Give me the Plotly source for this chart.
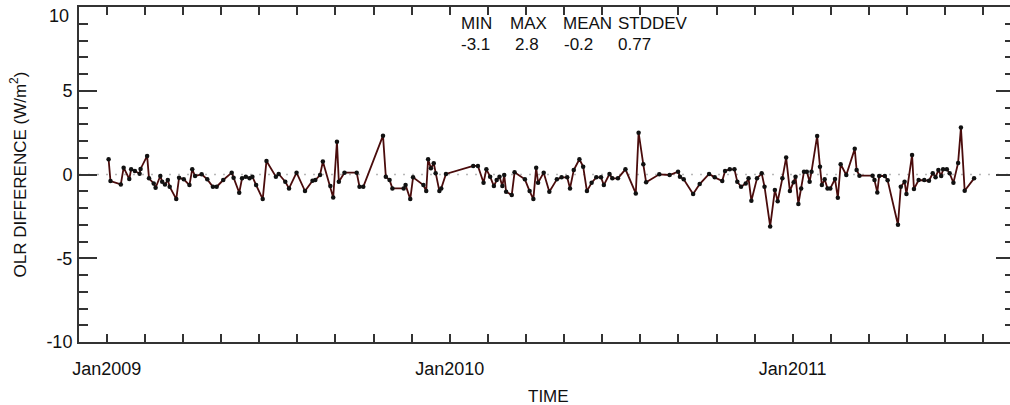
import pandas as pd
import plotly.graph_objects as go

# Day offsets from 1 Jan 2009 and OLR differences (W/m^2)
day_offsets = [
    2, 4, 15, 18, 24, 26, 30, 35, 36, 43,
    45, 50, 52, 57, 59, 62, 65, 67, 74, 77,
    82, 88, 91, 94, 101, 107, 113, 117, 124, 133,
    135, 141, 144, 148, 152, 155, 159, 166, 170, 180,
    183, 190, 194, 202, 211, 219, 222, 227, 230, 238,
    241, 245, 247, 253, 266, 269, 273, 294, 297, 301,
    304, 316, 318, 323, 326, 337, 340, 342, 345, 348,
    350, 354, 356, 361, 390, 395, 401, 404, 408, 412,
    415, 418, 421, 423, 425, 431, 434, 445, 450, 454,
    457, 459, 465, 471, 479, 484, 490, 493, 497, 503,
    507, 511, 516, 521, 526, 529, 535, 538, 544, 552,
    563, 566, 571, 574, 588, 599, 608, 610, 614, 624,
    631, 641, 647, 655, 658, 663, 668, 671, 675, 680,
    683, 686, 692, 697, 700, 706, 711, 714, 719, 723,
    727, 731, 733, 736, 739, 742, 745, 748, 750, 756,
    759, 761, 764, 767, 770, 775, 778, 781, 787, 796,
    798, 801, 815, 817, 820, 822, 828, 831, 842, 845,
    849, 851, 857, 859, 864, 870, 875, 879, 882, 885,
    888, 890, 894, 897, 901, 906, 909, 913, 923,
]
olr_diff = [
    0.91, -0.39, -0.59, 0.41, -0.27, 0.31, 0.21, 0.05, 0.33, 1.11,
    -0.23, -0.53, -0.79, -0.09, -0.43, -0.59, -0.33, -0.73, -1.47, -0.19,
    -0.29, -0.63, 0.31, -0.09, 0.01, -0.29, -0.73, -0.73, -0.33, 0.11,
    -0.19, -1.09, -0.23, -0.13, -0.23, -0.13, -0.63, -1.47, 0.81, -0.13,
    0.03, -0.43, -0.83, 0.11, -0.99, -0.37, -0.33, -0.03, 0.77, -0.69,
    -1.37, 1.96, -0.43, 0.11, 0.11, -0.73, -0.73, 2.32, -0.13, -0.33,
    -0.83, -0.83, -0.63, -1.47, -0.17, -0.63, -0.99, 0.91, 0.37, 0.67,
    0.07, -0.99, -0.83, 0.03, 0.51, 0.51, -0.49, 0.31, -0.13, -0.69,
    -0.33, -0.13, -0.69, -0.03, -1.03, -1.23, 0.13, -0.29, -0.99, -1.47,
    0.41, -0.49, 0.11, -1.03, -0.29, -0.17, -0.17, -0.83, 0.27, 0.91,
    0.47, -0.99, -0.49, -0.17, -0.17, -0.63, 0.03, -0.23, -0.23, 0.31,
    -1.13, 2.5, 0.61, -0.47, 0.01, -0.03, 0.17, -0.13, -0.29, -1.17,
    -0.57, 0.03, -0.17, -0.39, 0.21, 0.31, 0.31, -0.43, -0.73, -0.53,
    -0.23, -1.57, -0.23, 0.07, -0.73, -3.1, -0.93, -1.6, -0.23, 1.01,
    -0.99, -0.47, -0.13, -1.76, -0.83, 0.17, 0.17, -0.43, 0.17, 2.3,
    0.47, -0.63, -0.29, -0.83, -0.83, -0.27, -1.39, 0.61, -0.03, 1.53,
    0.27, -0.07, -0.07, -0.33, -1.07, -0.09, -0.09, -0.35, -3.0, -0.73,
    -0.43, -1.17, 1.17, -0.87, -0.33, -0.33, -0.37, 0.07, -0.17, 0.27,
    -0.09, 0.31, 0.31, 0.07, -0.49, 0.69, 2.8, -0.97, -0.23,
]

tick_dates = ["2009-01-01", "2010-01-01", "2011-01-01"]
tick_labels = ["Jan2009", "Jan2010", "Jan2011"]
y_tick_vals = [-10, -5, 0, 5, 10]
y_tick_labels = ["-10", "-5", "0", "5", "10"]

stat_names = ["MIN", "MAX", "MEAN", "STDDEV"]
stat_values = ["-3.1", "2.8", "-0.2", "0.77"]

start = pd.Timestamp("2009-01-01")
dates = start + pd.to_timedelta(day_offsets, unit="D")

FONT = "Liberation Sans, Arial, sans-serif"
INK = "#111111"
AXIS = "#333333"
W, H = 1010, 405
L, R, T, B = 79, 0, 7, 63
PW, PH = W - L - R, H - T - B
PX_PER_DAY = 343 / 365


def px_x(px):
    return (px - L) / PW


def px_y(py):
    return (H - B - py) / PH


def label(text, px, py, anchor="left", size=17, angle=0):
    return dict(text=text, x=px_x(px), y=px_y(py), xref="paper", yref="paper",
                xanchor=anchor, yanchor="middle", showarrow=False, textangle=angle,
                font=dict(size=size, color=INK, family=FONT))


x0 = start - pd.Timedelta(days=29.5)
x1 = x0 + pd.Timedelta(days=PW / PX_PER_DAY)

fig = go.Figure()
fig.add_trace(go.Scatter(
    x=dates, y=olr_diff, mode="lines+markers",
    line=dict(color="#4a0c0c", width=1.8),
    marker=dict(color="#111111", size=4.5),
    showlegend=False, hoverinfo="x+y",
))
# same series bound to the right-hand tick axis, kept invisible
fig.add_trace(go.Scatter(
    x=dates, y=olr_diff, yaxis="y2", mode="markers",
    marker=dict(opacity=0), showlegend=False, hoverinfo="skip",
))

# dotted zero reference line
fig.add_shape(type="line", xref="paper", x0=0, x1=1, yref="y", y0=0, y1=0,
              line=dict(color="#b8b8b8", width=1.5, dash="2px,7px"), layer="below")

annotations = []
for name, px in zip(stat_names, [459, 508, 561, 616]):
    annotations.append(label(name, px, 24, size=17))
for val, px in zip(stat_values, [459, 513, 562, 616]):
    annotations.append(label(val, px, 44, size=17))
annotations.append(label("TIME", 548, 396, anchor="center"))
annotations.append(label("OLR DIFFERENCE (W/m<sup>2</sup>)", 18, 174.5,
                         anchor="center", angle=-90))
# top y label sits just inside the frame
annotations.append(label(y_tick_labels[-1], 71, 16, anchor="right", size=18))

fig.update_layout(
    width=W, height=H,
    margin=dict(l=L, r=R, t=T, b=B, pad=0, autoexpand=False),
    paper_bgcolor="white", plot_bgcolor="white",
    font=dict(family=FONT, size=17, color=INK),
    annotations=annotations,
    xaxis=dict(
        type="date", range=[x0, x1], automargin=False,
        tickvals=tick_dates, ticktext=tick_labels,
        ticks="inside", ticklen=8, tickwidth=1.5, tickcolor=AXIS,
        ticklabelstandoff=9,
        minor=dict(tick0="2009-01-01", dtick=365 / 9 * 86400000, ticks="inside",
                   ticklen=4, tickwidth=1.5, tickcolor=AXIS, showgrid=False),
        showline=True, linecolor=AXIS, linewidth=2, mirror="allticks",
        showgrid=False, zeroline=False,
        tickfont=dict(size=18, family=FONT, color=INK),
    ),
    yaxis=dict(
        range=[-10, 10], automargin=False,
        tickvals=y_tick_vals, ticktext=y_tick_labels[:-1] + [""],
        ticks="inside", ticklen=18, tickwidth=1.5, tickcolor=AXIS,
        ticklabelstandoff=1,
        minor=dict(dtick=1, ticks="inside", ticklen=9, tickwidth=1.5,
                   tickcolor=AXIS, showgrid=False),
        showline=True, linecolor=AXIS, linewidth=2, mirror=False,
        showgrid=False, zeroline=False,
        tickfont=dict(size=18, family=FONT, color=INK),
    ),
    # right-hand ticks of a frame whose edge lies just past the page
    yaxis2=dict(
        overlaying="y", side="right", anchor="x",
        range=[-10, 10], automargin=False,
        tickvals=y_tick_vals, showticklabels=False,
        ticks="inside", ticklen=14, tickwidth=1.5, tickcolor=AXIS,
        minor=dict(dtick=1, ticks="inside", ticklen=5, tickwidth=1.5,
                   tickcolor=AXIS, showgrid=False),
        showline=False, showgrid=False, zeroline=False,
    ),
)

fig.write_html("out.html")
